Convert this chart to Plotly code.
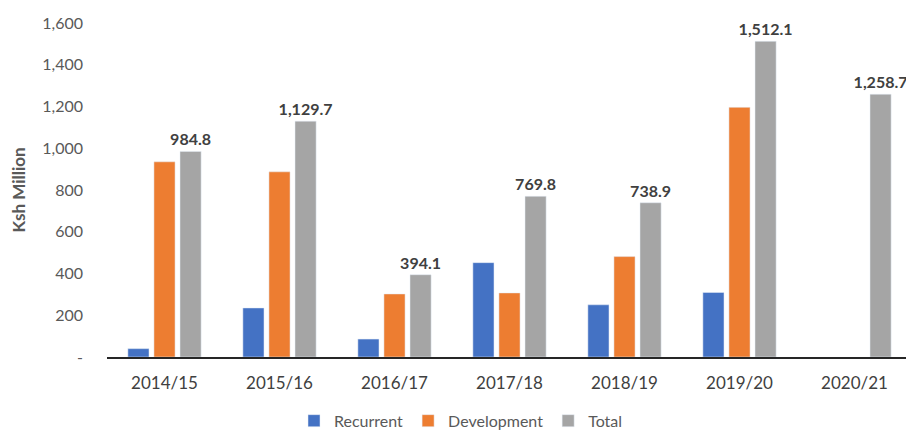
import plotly.graph_objects as go

years = ["2014/15", "2015/16", "2016/17", "2017/18", "2018/19", "2019/20", "2020/21"]
recurrent = [40, 235, 86, 452, 250, 309, None]
development = [935, 887, 302, 307, 481, 1196, None]
total = [984.8, 1129.7, 394.1, 769.8, 738.9, 1512.1, 1258.7]

y_ticks = [0, 200, 400, 600, 800, 1000, 1200, 1400, 1600]
y_tick_text = ["-", "200", "400", "600", "800", "1,000", "1,200", "1,400", "1,600"]

FONT = "Lato"
fig = go.Figure()
fig.add_trace(go.Bar(name="Recurrent", x=years, y=recurrent, marker_color="#4472C4"))
fig.add_trace(go.Bar(name="Development", x=years, y=development, marker_color="#ED7D31"))
fig.add_trace(go.Bar(
    name="Total", x=years, y=total, marker_color="#A5A5A5",
    texttemplate="%{y:,.1f}", textposition="outside", cliponaxis=False,
    constraintext="none",
    outsidetextfont=dict(family=FONT, size=16, color="#404040", weight="bold"),
))

fig.update_layout(
    width=906, height=425,
    margin=dict(l=99, r=2, t=15, b=76, autoexpand=False),
    paper_bgcolor="white", plot_bgcolor="white",
    barmode="group", bargap=0.32, bargroupgap=0.19,
    font=dict(family=FONT, color="#595959", size=16),
    showlegend=True,
    legend=dict(orientation="h", xref="container", x=0.5, xanchor="center",
                y=-0.14, yanchor="top",
                font=dict(family=FONT, size=16, color="#595959"),
                itemwidth=30, traceorder="normal"),
    xaxis=dict(showline=True, linecolor="#262626", linewidth=2, ticks="",
               automargin=False, ticklabelstandoff=10,
               tickfont=dict(family=FONT, size=17, color="#404040"), showgrid=False),
    yaxis=dict(range=[0, 1600], tickvals=y_ticks, ticktext=y_tick_text,
               showgrid=False, zeroline=False, showline=False, ticks="",
               automargin=False, ticklabelstandoff=23,
               tickfont=dict(family=FONT, size=16, color="#595959"),
               title=dict(text="<b>Ksh Million</b>", font=dict(family=FONT, size=17, color="#595959"), standoff=22)),
)

fig.write_html("out.html")
